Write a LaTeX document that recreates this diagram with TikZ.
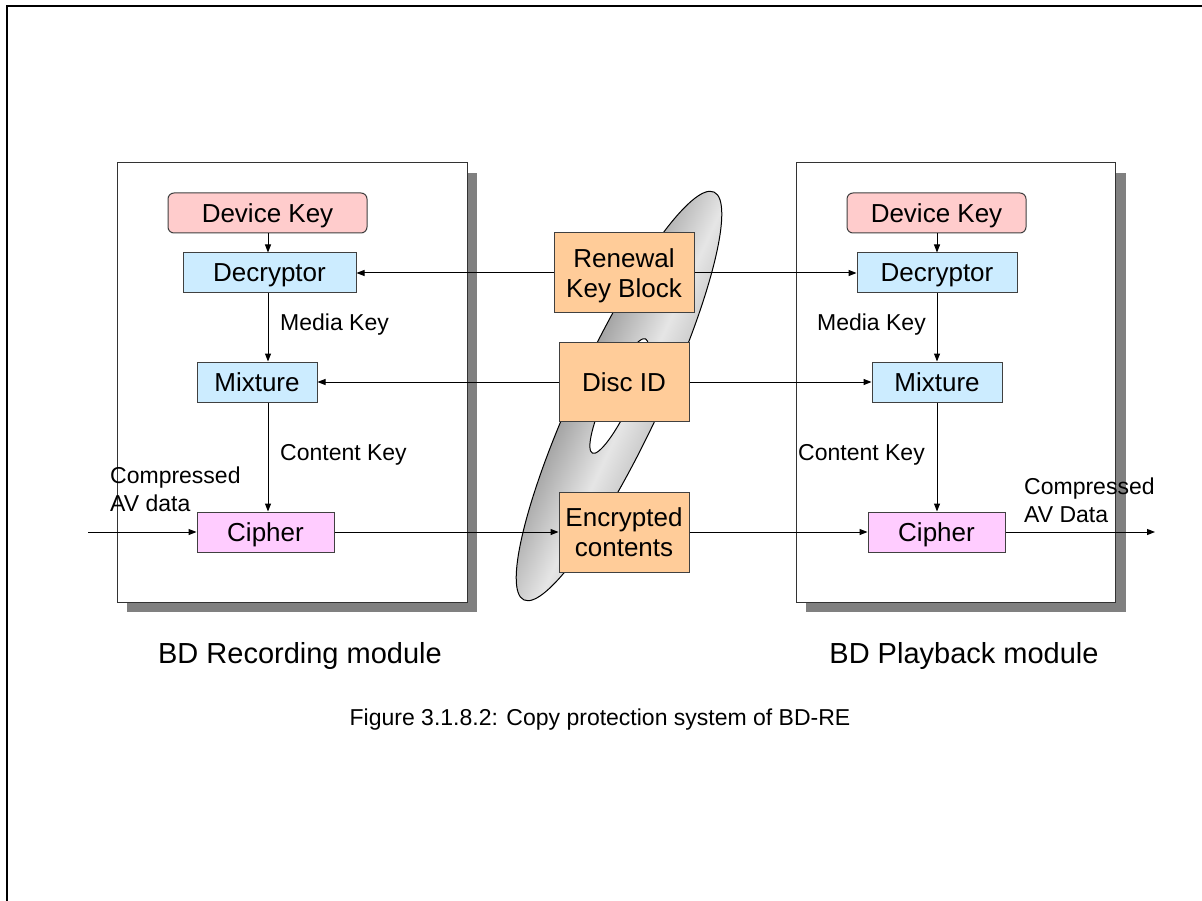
\documentclass[tikz,border=0pt]{standalone}
\usepackage{fontspec}
\setmainfont{Liberation Sans}
\usetikzlibrary{arrows.meta}
\definecolor{dkcol}{HTML}{FFCCCC}
\definecolor{bluecol}{HTML}{CCECFF}
\definecolor{ciphcol}{HTML}{FFCCFF}
\definecolor{orgcol}{HTML}{FFCC99}
\definecolor{shadowgray}{HTML}{808080}
\pgfdeclareverticalshading{discshade}{100bp}{%
  color(0bp)=(black!20); color(25bp)=(black!20); color(42bp)=(black!10);
  color(75bp)=(black!36); color(100bp)=(black!36)}
\tikzset{
  modbox/.style={draw=black!80, fill=white, line width=1pt, inner sep=0pt},
  shadowbox/.style={fill=shadowgray, draw=none},
  blk/.style={draw=black!75, line width=1pt, inner sep=0pt, align=center,
              text depth=0pt, font=\fontsize{26}{30}\selectfont},
  lbl/.style={font=\fontsize{23}{28}\selectfont, inner sep=0pt},
  ttl/.style={font=\fontsize{29}{34}\selectfont, inner sep=0pt},
  arr/.style={-{Triangle[length=8pt,width=6pt]}, line width=1pt},
}
\begin{document}
\begin{tikzpicture}[x=1pt, y=-1pt]
\useasboundingbox (0,0) rectangle (1202,901);
% page frame
\draw[line width=2pt] (7,901) -- (7,6) -- (1202,6);

% shadows and module frames
\fill[shadowbox] (127,173) rectangle (477,612);
\fill[shadowbox] (806,173) rectangle (1126,612);
\node[modbox, minimum width=350pt, minimum height=439pt] (recmod) at (292,382.5) {};
\node[modbox, minimum width=319pt, minimum height=439pt] (playmod) at (955.5,382.5) {};

% disc
\begin{scope}[transform canvas={shift={(619,396)}, rotate=65}]
  \shadedraw[shading=discshade, draw=black, line width=1pt] (0pt,0pt) ellipse [x radius=225pt, y radius=43pt];
  \filldraw[fill=white, draw=black, line width=1pt] (0pt,0pt) ellipse [x radius=63pt, y radius=13pt];
\end{scope}

% left module nodes
\node[blk, fill=dkcol, rounded corners=6pt, minimum width=199pt, minimum height=40pt] (dk1) at (267.5,213) {Device Key};
\node[blk, fill=bluecol, minimum width=173pt, minimum height=40pt] (dec1) at (269.5,273) {Decryptor};
\node[blk, fill=bluecol, minimum width=120pt, minimum height=40pt] (mix1) at (257,382) {Mixture};
\node[blk, fill=ciphcol, minimum width=137pt, minimum height=40pt] (cip1) at (265.5,532) {Cipher};

% right module nodes
\node[blk, fill=dkcol, rounded corners=6pt, minimum width=179pt, minimum height=40pt] (dk2) at (936.5,213) {Device Key};
\node[blk, fill=bluecol, minimum width=160pt, minimum height=40pt] (dec2) at (937,273) {Decryptor};
\node[blk, fill=bluecol, minimum width=130pt, minimum height=40pt] (mix2) at (937,382) {Mixture};
\node[blk, fill=ciphcol, minimum width=137pt, minimum height=40pt] (cip2) at (936.5,532) {Cipher};

% middle nodes
\node[blk, fill=orgcol, minimum width=140pt, minimum height=80pt] (rkb) at (624,273) {Renewal\\Key Block};
\node[blk, fill=orgcol, minimum width=130pt, minimum height=79pt] (did) at (624,382) {Disc ID};
\node[blk, fill=orgcol, minimum width=130pt, minimum height=80pt] (enc) at (624,532) {Encrypted\\contents};

% helper coordinates
\coordinate (c1) at (268,0);
\coordinate (c2) at (937,0);
\coordinate (inL) at (88,532);
\coordinate (outR) at (1155,532);

% connectors
\draw[arr] (dk1.south -| c1) -- (dec1.north -| c1);
\draw[arr] (dec1.south -| c1) -- (mix1.north -| c1);
\draw[arr] (mix1.south -| c1) -- (cip1.north -| c1);
\draw[arr] (dk2.south -| c2) -- (dec2.north -| c2);
\draw[arr] (dec2.south -| c2) -- (mix2.north -| c2);
\draw[arr] (mix2.south -| c2) -- (cip2.north -| c2);
\draw[arr] (rkb.west) -- (dec1.east);
\draw[arr] (rkb.east) -- (dec2.west);
\draw[arr] (did.west) -- (mix1.east);
\draw[arr] (did.east) -- (mix2.west);
\draw[arr] (inL) -- (cip1.west);
\draw[arr] (cip1.east) -- (enc.west);
\draw[arr] (enc.east) -- (cip2.west);
\draw[arr] (cip2.east) -- (outR);

% labels
\node[lbl, anchor=west] (mk1) at (280,325) {Media Key};
\node[lbl, anchor=west] (ck1) at (280,455) {Content Key};
\node[lbl, anchor=east] (mk2) at (926,325) {Media Key};
\node[lbl, anchor=east] (ck2) at (925,455) {Content Key};
\node[lbl, anchor=west, align=left] (inlbl) at (110,489) {Compressed\\AV data};
\node[lbl, anchor=west, align=left] (outlbl) at (1024,500) {Compressed\\AV Data};

% titles
\node[ttl, anchor=base] (t1) at (300,663) {BD Recording module};
\node[ttl, anchor=base] (t2) at (964,663) {BD Playback module};
\node[lbl, anchor=base] (cap) at (600,725) {Figure 3.1.8.2: Copy protection system of BD-RE};
\end{tikzpicture}
\end{document}
